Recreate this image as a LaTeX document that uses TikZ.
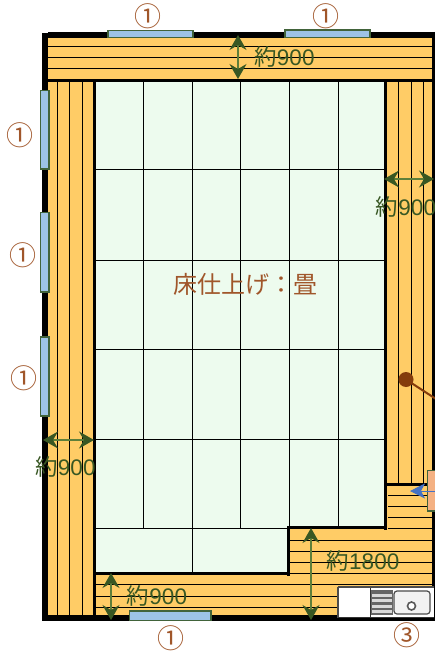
\documentclass[tikz,border=0pt]{standalone}
\usepackage{fontspec}
\setmainfont{Liberation Sans}
\newfontfamily\cjk{Noto Sans CJK JP}
\usetikzlibrary{arrows.meta}
\definecolor{plank}{HTML}{FFCC66}
\definecolor{tatami}{HTML}{EDFBEE}
\definecolor{glass}{HTML}{9DC3E6}
\definecolor{frame}{HTML}{5E7F3A}
\definecolor{framed}{HTML}{41633A}
\definecolor{dim}{HTML}{385723}
\definecolor{brownt}{HTML}{A0562A}
\definecolor{knob}{HTML}{843C0C}
\definecolor{doorf}{HTML}{F4B183}
\definecolor{arrowb}{HTML}{4472C4}
\tikzset{
  x=1pt,y=-1pt,
  wall/.style={line width=#1,black,line cap=butt},
  wall/.default=3pt,
  board/.style={line width=1pt,black},
  mat/.style={line width=1pt,black},
  win/.style={draw=framed,fill=glass,line width=1.2pt},
  dimarrow/.style={draw=frame,line width=1.2pt,{Stealth[length=15pt,width=17pt,inset=5pt,color=dim]}-{Stealth[length=15pt,width=17pt,inset=5pt,color=dim]}},
  dimlabel/.style={text=dim,font=\fontsize{22.5}{22.5}\selectfont,inner sep=0pt},
  callout/.style={text=brownt,font=\cjk\fontsize{27}{27}\selectfont,inner sep=0pt},
}
\begin{document}
\begin{tikzpicture}
\useasboundingbox (0,0) rectangle (435,652);
% floor boards
\fill[plank] (45,35) rectangle (433,618);
% tatami
\fill[tatami] (95,81) -- (386,81) -- (386,528) -- (289,528) -- (289,574) -- (95,574) -- cycle;
% tatami joints
\foreach \x in {143,192,240,289,338} \draw[mat] (\x,81) -- (\x,528);
\foreach \y in {170,260,349,439} \draw[mat] (95,\y) -- (386,\y);
\draw[mat] (95,528) -- (386,528);
\draw[mat] (192,528) -- (192,574);
% boards top
\foreach \y in {46.5,57.5,68.5} \draw[board] (48,\y) -- (433,\y);
% boards left
\foreach \x in {57.5,69.5,82} \draw[board] (\x,81) -- (\x,616);
% boards right
\foreach \x in {398.5,411,423} \draw[board] (\x,81) -- (\x,483);
% boards lower right
\foreach \y in {495,506,517,528} \draw[board] (388,\y) -- (433,\y);
\foreach \y in {540,551,562,573} \draw[board] (290,\y) -- (433,\y);
\foreach \y in {584,596,607} \draw[board] (95,\y) -- (433,\y);
% inner walls
\draw[wall] (44,80.5) -- (433,80.5);
\draw[wall] (94.5,80) -- (94.5,618);
\draw[wall] (385.5,80) -- (385.5,530);
\draw[wall] (290,527.5) -- (387,527.5);
\draw[wall] (288.5,526) -- (288.5,576);
\draw[wall] (94,573.5) -- (290,573.5);
\draw[wall] (387,484) -- (433,484);
% outer walls
\draw[wall=6pt] (48,35) -- (435,35);
\draw[wall=6pt] (45,33) -- (45,621);
\draw[wall=6pt] (42,618) -- (435,618);
\draw[wall=3pt] (433.5,32) -- (433.5,621);
% windows
\draw[win] (108,30.5) rectangle (193,37.5);
\draw[win] (285,30) rectangle (370,37.5);
\draw[win] (40.5,90.5) rectangle (49,169);
\draw[win] (40.5,212.5) rectangle (49,292);
\draw[win] (40.5,337) rectangle (49,416);
\draw[win] (129.5,611) rectangle (211,620.5);
% sink
\fill[white] (338,587) rectangle (434,618);
\draw[black!70,line width=1.2pt] (338,587) -- (434,587);
\draw[black!70,line width=1.2pt] (338,587) -- (338,618);
\draw[black!80,line width=1.5pt] (338,617.5) -- (434,617.5);
\draw[black!80,line width=1.2pt] (370.5,588) -- (370.5,617);
\fill[black!60] (371,590) rectangle (393,615);
\foreach \y in {593.5,599,604.5,610} \fill[white!85!black] (372,\y) rectangle (392,\y+3);
\draw[black!70,line width=1.2pt,fill=white!95!black,rounded corners=3pt] (394,591) rectangle (430,614);
\draw[black!65,line width=1.6pt,fill=white] (411.5,606) circle (4);
% door
\draw[draw=framed,fill=doorf,line width=1.2pt] (427.5,470.5) rectangle (436,511);
\coordinate (doorin) at (435,491);
\coordinate (doorout) at (410,491);
\draw[arrowb,line width=1pt,-{Stealth[length=15pt,width=15pt,inset=4pt,color=arrowb]}] (doorin) -- (doorout);
% lamp
\node[circle,fill=knob,minimum size=15pt,inner sep=0pt] (lamp) at (406,379.5) {};
\coordinate (lampend) at (436,399);
\draw[knob,line width=2pt] (lamp.center) -- (lampend);
% dimensions
\coordinate (ta) at (238,35); \coordinate (tb) at (238,79);
\draw[dimarrow] (ta) -- (tb);
\coordinate (ra) at (384,179); \coordinate (rb) at (434,179);
\draw[dimarrow] (ra) -- (rb);
\coordinate (la) at (43,440); \coordinate (lb) at (94,440);
\draw[dimarrow] (la) -- (lb);
\coordinate (ba) at (111,573); \coordinate (bb) at (111,620);
\draw[dimarrow] (ba) -- (bb);
\coordinate (ka) at (311,528); \coordinate (kb) at (311,620);
\draw[dimarrow] (ka) -- (kb);
\node[dimlabel] (l1) at (284.5,56.5) {{\cjk 約}900};
\node[dimlabel] (l2) at (406,207) {{\cjk 約}900};
\node[dimlabel] (l3) at (65.5,466.5) {{\cjk 約}900};
\node[dimlabel] (l4) at (157,595.5) {{\cjk 約}900};
\node[dimlabel] (l5) at (363,561) {{\cjk 約}1800};
\node[text=brownt,font=\cjk\fontsize{24}{24}\selectfont,inner sep=0pt] (floor) at (245,284) {床仕上げ：畳};
% callouts
\node[callout] (c1) at (148,16) {①};
\node[callout] (c2) at (326,16) {①};
\node[callout] (c3) at (20,135) {①};
\node[callout] (c4) at (23,255) {①};
\node[callout] (c5) at (24,378) {①};
\node[callout] (c6) at (171,638) {①};
\node[callout] (c7) at (407,635) {③};
\end{tikzpicture}
\end{document}
